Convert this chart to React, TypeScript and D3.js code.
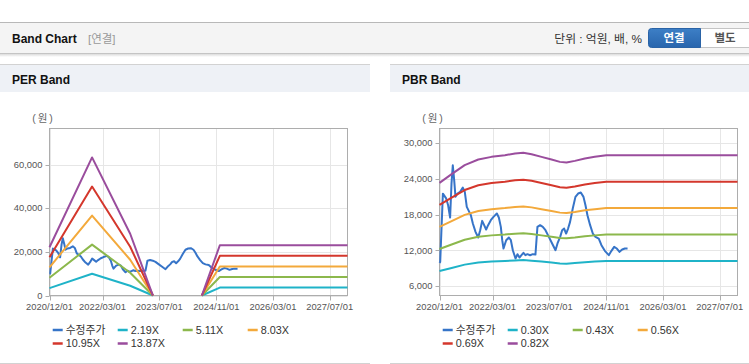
import React from "react";
import * as d3 from "d3";

// ---------- data ----------
const xDomain = ["2020-12-01", "2027-12-01"];
const xTickLabels = ["2020/12/01", "2022/03/01", "2023/07/01", "2024/11/01", "2026/03/01", "2027/07/01"];

const priceDates = [
  "2020-12-01", "2020-12-07", "2020-12-30", "2021-01-27", "2021-02-13", "2021-03-02", "2021-03-14", "2021-03-25",
  "2021-04-06", "2021-04-17", "2021-05-04", "2021-05-27", "2021-06-19", "2021-07-06", "2021-07-23", "2021-08-09",
  "2021-08-27", "2021-09-13", "2021-10-06", "2021-10-29", "2021-11-15", "2021-12-02", "2021-12-19", "2022-01-05",
  "2022-01-22", "2022-02-14", "2022-03-09", "2022-04-07", "2022-04-24", "2022-05-11", "2022-05-23", "2022-06-03",
  "2022-06-26", "2022-07-19", "2022-08-05", "2022-08-22", "2022-09-14", "2022-10-01", "2022-10-18", "2022-11-04",
  "2022-11-21", "2022-12-08", "2022-12-25", "2023-01-17", "2023-02-09", "2023-03-04", "2023-03-21", "2023-04-13",
  "2023-05-06", "2023-05-29", "2023-06-27", "2023-07-25", "2023-08-23", "2023-09-09", "2023-10-02", "2023-10-19",
  "2023-11-05", "2023-11-22", "2023-12-09", "2023-12-26", "2024-01-18", "2024-02-10", "2024-03-04", "2024-03-27",
  "2024-04-19", "2024-05-06", "2024-05-23", "2024-06-15", "2024-07-08", "2024-07-31", "2024-08-28", "2024-09-20",
  "2024-10-19", "2024-11-22", "2024-12-15", "2025-01-07", "2025-01-30", "2025-02-22", "2025-03-17", "2025-04-09",
  "2025-05-02",
];
const priceValues = [
  9900, 10070, 21500, 20700, 19560, 17500, 23190, 26260,
  23750, 20960, 21520, 21800, 22520, 21800, 19290, 18620,
  17890, 16500, 15100, 14150, 15380, 16940, 16220, 15490,
  16220, 17050, 17610, 18170, 17500, 15940, 13700, 12310,
  13700, 14150, 13700, 12030, 10630, 11360, 10800, 11190,
  11580, 11190, 11360, 11190, 11360, 11300, 15940, 16220,
  15940, 15380, 14260, 13150, 12030, 13150, 14260, 15380,
  15660, 14820, 15660, 16770, 19010, 20960, 21520, 21690,
  20960, 19560, 17890, 16220, 14820, 14260, 13980, 12870,
  11920, 11190, 11920, 12590, 12310, 11750, 12140, 12310,
  12310,
];

// PER band
const perDates = ["2020-12-01", "2021-12-01", "2022-10-24", "2023-05-07", "2024-01-01", "2024-06-30", "2024-12-01", "2027-12-01"];
const per219 = [3400, 9990, 4470, 0, null, 0, 3640, 3640];
const per511 = [8100, 23300, 10420, 0, null, 0, 8480, 8480];
const per803 = [12900, 36620, 16380, 0, null, 0, 13330, 13330];
const per1095 = [17500, 49930, 22340, 0, null, 0, 18180, 18180];
const per1387 = [22100, 63250, 28290, 0, null, 0, 23020, 23020];
const perLegend = ["수정주가", "2.19X", "5.11X", "8.03X", "10.95X", "13.87X"];
const perYTicks = [0, 20000, 40000, 60000];
const perYDomain = [0, 76500];

// PBR band
const pbrDates = [
  "2020-12-01", "2021-03-15", "2021-07-05", "2021-10-30", "2022-02-20", "2022-06-15", "2022-09-10", "2022-11-20",
  "2023-01-30", "2023-04-25", "2023-07-20", "2023-09-30", "2023-11-25", "2024-02-05", "2024-05-01", "2024-07-25",
  "2024-11-01", "2027-12-01",
];
const pbr030 = [8530, 9060, 9610, 9960, 10120, 10220, 10320, 10370, 10280, 10120, 9960, 9810, 9770, 9880, 10020, 10120, 10220, 10220];
const pbr043 = [12220, 12980, 13770, 14270, 14510, 14650, 14800, 14860, 14740, 14510, 14270, 14070, 14010, 14150, 14360, 14510, 14650, 14650];
const pbr056 = [15920, 16910, 17940, 18590, 18890, 19080, 19270, 19350, 19200, 18890, 18590, 18320, 18240, 18430, 18700, 18890, 19080, 19080];
const pbr069 = [19610, 20830, 22100, 22900, 23280, 23510, 23750, 23840, 23650, 23280, 22900, 22570, 22480, 22710, 23040, 23280, 23510, 23510];
const pbr082 = [23310, 24760, 26270, 27210, 27660, 27940, 28220, 28330, 28110, 27660, 27210, 26820, 26710, 26990, 27380, 27660, 27940, 27940];
const pbrLegend = ["수정주가", "0.30X", "0.43X", "0.56X", "0.69X", "0.82X"];
const pbrYTicks = [6000, 12000, 18000, 24000, 30000];
const pbrYDomain = [4440, 32410];

// ---------- styles ----------
const seriesColors = ["#3674c8", "#1fb3c8", "#8cb84c", "#f3a93b", "#d4372c", "#9a4d9d"];
const FONT = "'Liberation Sans', Arial, 'Noto Sans CJK KR', sans-serif";
const KFONT = "'Liberation Sans', 'Noto Sans CJK KR', sans-serif";

const parse = d3.utcParse("%Y-%m-%d");
const parseTick = d3.utcParse("%Y/%m/%d");

type Props = {
  ox: number;
  yDomain: number[];
  yTicks: number[];
  bandDates: string[];
  bands: (number | null)[][];
  legend: string[];
};

function BandPanel({ ox, yDomain, yTicks, bandDates, bands, legend }: Props) {
  const left = ox + 49.5;
  const width = 298;
  const top = 128.5;
  const height = 167;
  const x = d3.scaleUtc().domain(xDomain.map((d) => parse(d) as Date)).range([left, left + width]);
  const y = d3.scaleLinear().domain(yDomain).range([top + height, top]);
  const fmt = d3.format(",");
  const line = d3
    .line<{ d: Date; v: number | null }>()
    .defined((p) => p.v !== null)
    .x((p) => x(p.d))
    .y((p) => y(p.v as number));

  const pricePts = priceDates.map((d, i) => ({ d: parse(d) as Date, v: priceValues[i] }));
  const bandPts = bands.map((vals) => bandDates.map((d, i) => ({ d: parse(d) as Date, v: vals[i] })));
  const xTicks = xTickLabels.map((t) => parseTick(t) as Date);

  const legendX = ox + 52.7;
  const legendRows = [330, 343.5];

  return (
    <g>
      {yTicks.map((t) => (
        <line key={"gy" + t} x1={left} x2={left + width} y1={Math.round(y(t)) + 0.5} y2={Math.round(y(t)) + 0.5} stroke="#e6e6e6" />
      ))}
      {xTicks.map((t, i) => (
        <line key={"gx" + i} x1={Math.round(x(t)) + 0.5} x2={Math.round(x(t)) + 0.5} y1={top} y2={top + height} stroke="#e6e6e6" />
      ))}
      <rect x={left} y={top} width={width} height={height} fill="none" stroke="#adadad" />
      {xTicks.map((t, i) => (
        <line key={"tx" + i} x1={Math.round(x(t)) + 0.5} x2={Math.round(x(t)) + 0.5} y1={top + height} y2={top + height + 5} stroke="#adadad" />
      ))}
      {yTicks.map((t) => (
        <line key={"ty" + t} x1={left - 4} x2={left} y1={Math.round(y(t)) + 0.5} y2={Math.round(y(t)) + 0.5} stroke="#adadad" />
      ))}
      {yTicks.map((t) => (
        <text key={"ly" + t} x={left - 7} y={y(t)} dy="0.35em" textAnchor="end" fontSize={9.4} fill="#555" fontFamily={FONT}>
          {fmt(t)}
        </text>
      ))}
      {xTicks.map((t, i) => (
        <text key={"lx" + i} x={x(t)} y={310} textAnchor="middle" fontSize={9.4} fill="#555" fontFamily={FONT}>
          {xTickLabels[i]}
        </text>
      ))}
      <text x={ox + 43.5} y={122} textAnchor="middle" fontSize={10.5} letterSpacing={2} fill="#666" fontFamily={KFONT}>
        (원)
      </text>
      <path d={line(pricePts) || ""} fill="none" stroke={seriesColors[0]} strokeWidth={2} strokeLinejoin="round" />
      {bandPts.map((pts, i) => (
        <path key={"b" + i} d={line(pts) || ""} fill="none" stroke={seriesColors[i + 1]} strokeWidth={2} strokeLinejoin="round" />
      ))}
      {legend.map((name, i) => {
        const row = Math.floor(i / 4);
        const col = i % 4;
        const lx = legendX + col * 65;
        const ly = legendRows[row];
        return (
          <g key={"lg" + i}>
            <line x1={lx} x2={lx + 10} y1={ly} y2={ly} stroke={seriesColors[i]} strokeWidth={2.5} />
            <text x={lx + 13} y={ly} dy="0.36em" fontSize={10.8} fill="#333" fontFamily={KFONT}>
              {name}
            </text>
          </g>
        );
      })}
    </g>
  );
}

export default function App() {
  return (
    <svg
      width={749}
      height={364}
      style={{ position: "absolute", left: 0, top: 0, background: "#fff" }}
      xmlns="http://www.w3.org/2000/svg"
    >
      <defs>
        <linearGradient id="shadow" x1="0" y1="0" x2="0" y2="1">
          <stop offset="0" stopColor="#000" stopOpacity={0.14} />
          <stop offset="1" stopColor="#000" stopOpacity={0} />
        </linearGradient>
        <linearGradient id="btn" x1="0" y1="0" x2="0" y2="1">
          <stop offset="0" stopColor="#3d7fc6" />
          <stop offset="1" stopColor="#2865ad" />
        </linearGradient>
      </defs>
      <rect x={0} y={22} width={749} height={31} fill="#f4f4f4" />
      <line x1={0} x2={749} y1={22.5} y2={22.5} stroke="#b8b8b8" />
      <line x1={0} x2={749} y1={53.5} y2={53.5} stroke="#c4c4c4" />
      <rect x={0} y={54} width={749} height={3} fill="url(#shadow)" />
      <text x={12} y={42.5} fontSize={12} fontWeight="bold" fill="#111" fontFamily={KFONT}>
        Band Chart
      </text>
      <text x={88} y={42.5} fontSize={11.5} fill="#999" fontFamily={KFONT}>
        [연결]
      </text>
      <text x={642} y={42.5} textAnchor="end" fontSize={11.8} fill="#333" fontFamily={KFONT}>
        단위 : 억원, 배, %
      </text>
      <rect x={700.5} y={28.5} width={52} height={19} fill="#fff" stroke="#c4c4c4" />
      <path d="M651.5,28.5 H700.5 V47.5 H651.5 Q648.5,47.5 648.5,44.5 V31.5 Q648.5,28.5 651.5,28.5 Z" fill="url(#btn)" stroke="#2a63a6" />
      <text x={674} y={42.3} textAnchor="middle" fontSize={11.5} fontWeight="bold" fill="#fff" fontFamily={KFONT}>
        연결
      </text>
      <text x={725} y={42.3} textAnchor="middle" fontSize={11.5} fontWeight="bold" fill="#555" fontFamily={KFONT}>
        별도
      </text>

      {[0, 390].map((px, i) => (
        <g key={"pt" + i}>
          <rect x={px} y={64} width={i === 0 ? 370 : 359} height={28} fill="#eef1f6" />
          <line x1={px} x2={i === 0 ? 370 : 749} y1={64.5} y2={64.5} stroke="#d2d2d2" />
          <line x1={px} x2={i === 0 ? 370 : 749} y1={363.5} y2={363.5} stroke="#d2d2d2" />
          <text x={px + 12} y={84.3} fontSize={12} fontWeight="bold" fill="#111" fontFamily={KFONT}>
            {i === 0 ? "PER Band" : "PBR Band"}
          </text>
        </g>
      ))}

      <BandPanel
        ox={0}
        yDomain={perYDomain}
        yTicks={perYTicks}
        bandDates={perDates}
        bands={[per219, per511, per803, per1095, per1387]}
        legend={perLegend}
      />
      <BandPanel
        ox={390}
        yDomain={pbrYDomain}
        yTicks={pbrYTicks}
        bandDates={pbrDates}
        bands={[pbr030, pbr043, pbr056, pbr069, pbr082]}
        legend={pbrLegend}
      />
    </svg>
  );
}
